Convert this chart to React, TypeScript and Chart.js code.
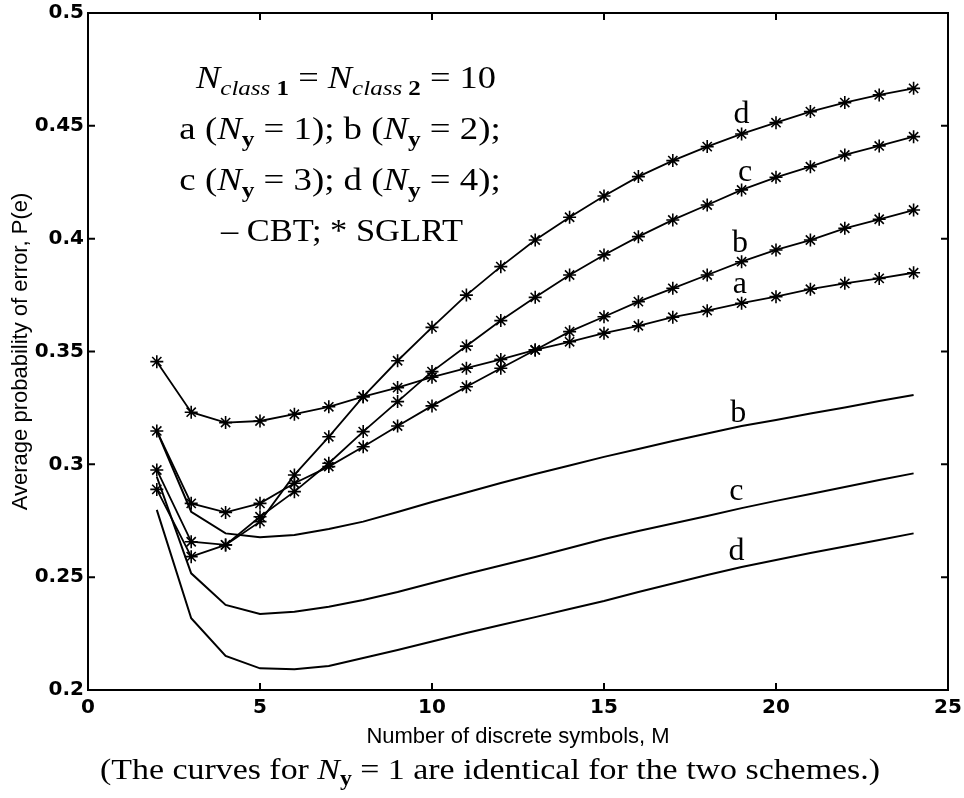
import React, { useEffect, useRef } from "react";
import { Chart, registerables } from "chart.js";

Chart.register(...registerables);

// ---------- data ----------
const symbolsM = [2, 3, 4, 5, 6, 7, 8, 9, 10, 11, 12, 13, 14, 15, 16, 17, 18, 19, 20, 21, 22, 23, 24];

const sglrtA = [0.3455, 0.3231, 0.3185, 0.3192, 0.3222, 0.3255, 0.33, 0.334, 0.3386, 0.3426, 0.3465, 0.3507, 0.3543, 0.3581, 0.3614, 0.3652, 0.3681, 0.3714, 0.3743, 0.3776, 0.3802, 0.3824, 0.3849];
const sglrtB = [0.3148, 0.2827, 0.2787, 0.2827, 0.2916, 0.299, 0.3078, 0.317, 0.3259, 0.3344, 0.3426, 0.3507, 0.3588, 0.3654, 0.3721, 0.378, 0.3839, 0.3898, 0.395, 0.3994, 0.4046, 0.4086, 0.4127];
const sglrtC = [0.2975, 0.2657, 0.2643, 0.2768, 0.2879, 0.3005, 0.3145, 0.3278, 0.3411, 0.3524, 0.3637, 0.374, 0.3839, 0.3928, 0.4009, 0.4083, 0.4149, 0.4216, 0.4272, 0.4319, 0.4371, 0.4411, 0.4452];
const sglrtD = [0.2889, 0.2591, 0.2643, 0.2746, 0.2953, 0.3122, 0.33, 0.3459, 0.3607, 0.375, 0.3876, 0.3994, 0.4095, 0.4189, 0.4275, 0.4346, 0.4408, 0.4464, 0.4514, 0.4563, 0.4603, 0.4637, 0.4666];

const cbtB = [0.3148, 0.279, 0.2694, 0.2677, 0.2687, 0.2713, 0.2746, 0.2789, 0.2833, 0.2875, 0.2917, 0.2957, 0.2995, 0.3033, 0.3068, 0.3103, 0.3137, 0.317, 0.3196, 0.3225, 0.3252, 0.3281, 0.3307];
const cbtC = [0.2945, 0.2517, 0.2377, 0.2337, 0.2347, 0.2369, 0.2399, 0.2434, 0.2474, 0.2514, 0.2552, 0.2589, 0.2629, 0.2669, 0.2705, 0.2738, 0.2771, 0.2806, 0.2838, 0.2869, 0.29, 0.2931, 0.296];
const cbtD = [0.2798, 0.2318, 0.2151, 0.2096, 0.2092, 0.2106, 0.2142, 0.2177, 0.2215, 0.2253, 0.2288, 0.2323, 0.2359, 0.2394, 0.2434, 0.2472, 0.251, 0.2545, 0.2576, 0.2607, 0.2636, 0.2665, 0.2694];

const xTickValues = [0, 5, 10, 15, 20, 25];
const yTickValues = [0.2, 0.25, 0.3, 0.35, 0.4, 0.45, 0.5];

const curveLabels = [
  { text: "d", m: 19.0, p: 0.4514 },
  { text: "c", m: 19.1, p: 0.4257 },
  { text: "b", m: 18.95, p: 0.3942 },
  { text: "a", m: 18.95, p: 0.3758 },
  { text: "b", m: 18.9, p: 0.3189 },
  { text: "c", m: 18.85, p: 0.2842 },
  { text: "d", m: 18.85, p: 0.2576 },
];

const xTitle = "Number of discrete symbols, M";
const yTitle = "Average probability of error, P(e)";

// ---------- helpers ----------
const SERIF = '"Liberation Serif", "Times New Roman", serif';
const SANS = '"Liberation Sans", Arial, Helvetica, sans-serif';
const TICKFONT = '"DejaVu Sans", "Liberation Sans", Arial, sans-serif';

type Seg = [string, string, number];

function drawRich(ctx: CanvasRenderingContext2D, segs: Seg[], cx: number, baseline: number, target: number) {
  let w = 0;
  for (const [t, f] of segs) {
    ctx.font = f;
    w += ctx.measureText(t).width;
  }
  let sx = target / w;
  if (sx > 1.15) sx = 1.15;
  if (sx < 0.88) sx = 0.88;
  ctx.save();
  ctx.translate(cx - (w * sx) / 2, baseline);
  ctx.scale(sx, 1);
  ctx.textAlign = "left";
  ctx.textBaseline = "alphabetic";
  ctx.fillStyle = "#000";
  let x = 0;
  for (const [t, f, dy] of segs) {
    ctx.font = f;
    ctx.fillText(t, x, dy);
    x += ctx.measureText(t).width;
  }
  ctx.restore();
}

const R = `32px ${SERIF}`;
const I = `italic 32px ${SERIF}`;
const SI = `italic 22px ${SERIF}`;
const SB = `bold 22px ${SERIF}`;
const R2 = `30px ${SERIF}`;
const I2 = `italic 30px ${SERIF}`;
const SB2 = `bold 21px ${SERIF}`;

const annotationLines: { segs: Seg[]; cx: number; base: number; w: number }[] = [
  {
    segs: [["N", I, 0], ["class", SI, 7], [" 1", SB, 7], [" = ", R, 0], ["N", I, 0], ["class", SI, 7], [" 2", SB, 7], [" = 10", R, 0]],
    cx: 346, base: 88, w: 300,
  },
  {
    segs: [["a (", R, 0], ["N", I, 0], ["y", SB, 7], [" = 1); b (", R, 0], ["N", I, 0], ["y", SB, 7], [" = 2);", R, 0]],
    cx: 340, base: 139, w: 324,
  },
  {
    segs: [["c (", R, 0], ["N", I, 0], ["y", SB, 7], [" = 3); d (", R, 0], ["N", I, 0], ["y", SB, 7], [" = 4);", R, 0]],
    cx: 340, base: 190, w: 324,
  },
  {
    segs: [["\u2013 CBT; * SGLRT", R, 0]],
    cx: 342, base: 241, w: 242,
  },
];

const captionSegs: Seg[] = [
  ["(The curves for ", R2, 0],
  ["N", I2, 0],
  ["y", SB2, 6],
  [" = 1 are identical for the two schemes.)", R2, 0],
];

const decorPlugin = {
  id: "decor",
  afterDraw(chart: any) {
    const { ctx, chartArea, scales } = chart;
    const { left, right, top, bottom } = chartArea;
    const xs = scales.x;
    const ys = scales.y;
    ctx.save();
    ctx.strokeStyle = "#000";
    ctx.lineWidth = 2;
    ctx.strokeRect(left, top, right - left, bottom - top);
    const tl = 7;
    ctx.beginPath();
    xs.ticks.forEach((t: any) => {
      const px = xs.getPixelForValue(t.value);
      ctx.moveTo(px, bottom);
      ctx.lineTo(px, bottom - tl);
      ctx.moveTo(px, top);
      ctx.lineTo(px, top + tl);
    });
    ys.ticks.forEach((t: any) => {
      const py = ys.getPixelForValue(t.value);
      ctx.moveTo(left, py);
      ctx.lineTo(left + tl, py);
      ctx.moveTo(right, py);
      ctx.lineTo(right - tl, py);
    });
    ctx.stroke();

    // curve labels
    ctx.fillStyle = "#000";
    ctx.font = `32px ${SERIF}`;
    ctx.textAlign = "center";
    ctx.textBaseline = "alphabetic";
    curveLabels.forEach((l) => {
      ctx.fillText(l.text, xs.getPixelForValue(l.m), ys.getPixelForValue(l.p));
    });

    // annotation block
    annotationLines.forEach((ln) => drawRich(ctx, ln.segs, ln.cx, ln.base, ln.w));

    // caption
    drawRich(ctx, captionSegs, 490, 779, 780);
    ctx.restore();
  },
};

function toPoints(vals: number[]) {
  return vals.map((v, i) => ({ x: symbolsM[i], y: v }));
}

export default function App() {
  const ref = useRef<HTMLCanvasElement | null>(null);

  useEffect(() => {
    if (!ref.current) return;
    const starDs = (label: string, vals: number[]) => ({
      label,
      data: toPoints(vals),
      borderColor: "#000",
      backgroundColor: "#000",
      borderWidth: 1.8,
      pointStyle: "star",
      pointRadius: 6.5,
      pointBorderWidth: 1.6,
      pointBorderColor: "#000",
      pointHoverRadius: 6.5,
      tension: 0,
      fill: false,
    });
    const lineDs = (label: string, vals: number[]) => ({
      label,
      data: toPoints(vals),
      borderColor: "#000",
      backgroundColor: "#000",
      borderWidth: 2,
      pointRadius: 0,
      pointHoverRadius: 0,
      tension: 0,
      fill: false,
    });

    const chart = new Chart(ref.current, {
      type: "line",
      data: {
        datasets: [
          starDs("SGLRT a", sglrtA),
          starDs("SGLRT b", sglrtB),
          starDs("SGLRT c", sglrtC),
          starDs("SGLRT d", sglrtD),
          lineDs("CBT b", cbtB),
          lineDs("CBT c", cbtC),
          lineDs("CBT d", cbtD),
        ],
      },
      options: {
        animation: false,
        responsive: false,
        devicePixelRatio: 1,
        events: [],
        layout: { padding: { top: 13, right: 16, left: 0, bottom: 0 } },
        plugins: {
          legend: { display: false },
          tooltip: { enabled: false },
          title: { display: false },
        },
        scales: {
          x: {
            type: "linear",
            min: 0,
            max: 25,
            afterFit: (s: any) => {
              s.height = 108;
              s.paddingLeft = 0;
              s.paddingRight = 0;
            },
            afterBuildTicks: (s: any) => {
              s.ticks = xTickValues.map((v) => ({ value: v }));
            },
            grid: { display: false, drawTicks: false },
            border: { display: false },
            ticks: {
              color: "#000",
              padding: 6,
              maxRotation: 0,
              font: { family: TICKFONT, size: 20, weight: "bold" },
              callback: (v: any) => String(v),
            },
            title: {
              display: true,
              text: xTitle,
              color: "#000",
              font: { family: SANS, size: 22 },
              padding: { top: 0, bottom: 48 },
            },
          },
          y: {
            type: "linear",
            min: 0.2,
            max: 0.5,
            afterFit: (s: any) => {
              s.width = 88;
              s.paddingTop = 0;
              s.paddingBottom = 0;
            },
            afterBuildTicks: (s: any) => {
              s.ticks = yTickValues.map((v) => ({ value: v }));
            },
            grid: { display: false, drawTicks: false },
            border: { display: false },
            ticks: {
              color: "#000",
              padding: 4,
              font: { family: TICKFONT, size: 20, weight: "bold" },
              callback: (v: any) => String(Number(Number(v).toFixed(2))),
            },
            title: {
              display: true,
              text: yTitle,
              color: "#000",
              font: { family: SANS, size: 22 },
              padding: { top: 8, bottom: 0 },
            },
          },
        },
      },
      plugins: [decorPlugin],
    } as any);

    return () => chart.destroy();
  }, []);

  return (
    <div style={{ position: "absolute", left: 0, top: 0, width: 964, height: 798, background: "#fff" }}>
      <canvas ref={ref} width={964} height={798} style={{ display: "block", width: 964, height: 798 }} />
    </div>
  );
}
